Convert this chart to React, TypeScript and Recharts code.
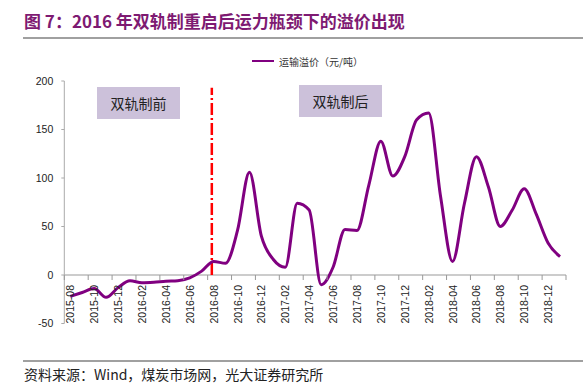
import * as React from 'react';
import { LineChart, Line, XAxis, YAxis, ReferenceLine } from 'recharts';

// monthly transport premium (yuan/ton)
const MONTHS = [
  '2015-08', '2015-09', '2015-10', '2015-11', '2015-12',
  '2016-01', '2016-02', '2016-03', '2016-04', '2016-05', '2016-06',
  '2016-07', '2016-08', '2016-09', '2016-10', '2016-11', '2016-12',
  '2017-01', '2017-02', '2017-03', '2017-04', '2017-05', '2017-06',
  '2017-07', '2017-08', '2017-09', '2017-10', '2017-11', '2017-12',
  '2018-01', '2018-02', '2018-03', '2018-04', '2018-05', '2018-06',
  '2018-07', '2018-08', '2018-09', '2018-10', '2018-11', '2018-12',
  '2019-01'
];
const PREMIUM = [
  -22, -18, -14, -23, -13,
  -6, -8, -7.5, -6.5, -6, -3, 4, 14, 12, 46, 106, 40,
  16, 8, 74, 67, -10, 8, 47, 46, 93, 138, 102, 122,
  160, 167, 81, 14, 74, 122, 91, 50, 67, 89, 63, 33,
  19
];
const TICK_LABELS = [
  '2015-08', '2015-10', '2015-12', '2016-02', '2016-04', '2016-06',
  '2016-08', '2016-10', '2016-12', '2017-02', '2017-04', '2017-06',
  '2017-08', '2017-10', '2017-12', '2018-02', '2018-04', '2018-06',
  '2018-08', '2018-10', '2018-12'
];
const Y_TICKS = [-50, 0, 50, 100, 150, 200];
const Y_MIN = -50;
const Y_MAX = 200;
const RESTART_AT = 12.35; // 双轨制 restart (2016-08)

const W = 583;
const H = 384;
const PLOT_LEFT = 64.3;
const PLOT_RIGHT = 566;
const PLOT_TOP = 81;
const PLOT_BOTTOM = 323.5;
const YAXIS_W = 50;
const XAXIS_H = 30;

const LINE_COLOR = '#800080';
const TITLE_COLOR = '#7E1A72';
const CJK = '"Noto Sans CJK SC", "Noto Sans", sans-serif';
const LATIN = '"Liberation Sans", Arial, sans-serif';

const data = MONTHS.map((m, i) => ({ x: i + 0.5, month: m, v: PREMIUM[i] }));
// month boundaries every 2 months, labels sit at the middle of the month
const boundaries = TICK_LABELS.map((_, i) => i * 2).concat([MONTHS.length]);

const XTick = (props: any) => {
  const { x, payload } = props;
  const zeroY = PLOT_TOP + ((PLOT_BOTTOM - PLOT_TOP) * Y_MAX) / (Y_MAX - Y_MIN);
  const half = (PLOT_RIGHT - PLOT_LEFT) / (MONTHS.length * 2);
  const label = TICK_LABELS[payload.value / 2];
  return (
    <g>
      <line x1={x} x2={x} y1={zeroY} y2={zeroY + 5} stroke="#999" />
      {label && (
        <text
          transform={`translate(${x + half + 4},${zeroY + 10}) rotate(-90)`}
          textAnchor="end"
          fontSize={10.5}
          fill="#222"
          fontFamily={LATIN}
        >
          {label}
        </text>
      )}
    </g>
  );
};

const boxStyle: React.CSSProperties = {
  position: 'absolute',
  background: '#CCC1DA',
  fontFamily: CJK,
  fontSize: 14,
  color: '#222',
  display: 'flex',
  alignItems: 'center',
  justifyContent: 'center'
};

export default function App() {
  return (
    <div
      style={{
        position: 'absolute',
        left: 0,
        top: 0,
        width: W,
        height: H,
        background: '#fff',
        overflow: 'hidden'
      }}
    >
      <div
        style={{
          position: 'absolute',
          left: 24,
          top: 12,
          fontFamily: CJK,
          fontWeight: 700,
          fontSize: 17,
          lineHeight: '18px',
          color: TITLE_COLOR,
          whiteSpace: 'nowrap'
        }}
      >
        图 7：2016 年双轨制重启后运力瓶颈下的溢价出现
      </div>
      <div style={{ position: 'absolute', left: 23, top: 37, width: 560, height: 2, background: '#A0A0A0' }} />

      <LineChart
        width={W}
        height={H}
        data={data}
        margin={{
          top: PLOT_TOP,
          right: W - PLOT_RIGHT,
          bottom: H - PLOT_BOTTOM - XAXIS_H,
          left: PLOT_LEFT - YAXIS_W
        }}
      >
        <XAxis
          dataKey="x"
          type="number"
          domain={[0, MONTHS.length]}
          ticks={boundaries}
          interval={0}
          axisLine={false}
          tickLine={false}
          height={XAXIS_H}
          tick={<XTick />}
        />
        <YAxis
          type="number"
          domain={[Y_MIN, Y_MAX]}
          ticks={Y_TICKS}
          interval={0}
          width={YAXIS_W}
          axisLine={{ stroke: '#AAA' }}
          tickLine={{ stroke: '#AAA' }}
          tickSize={3}
          tickMargin={8}
          tick={{ fontSize: 10.5, fill: '#222', fontFamily: LATIN }}
        />
        <ReferenceLine y={0} stroke="#999" strokeWidth={1} />
        <ReferenceLine
          segment={[
            { x: RESTART_AT, y: 0 },
            { x: RESTART_AT, y: 193 }
          ]}
          stroke="#FF0000"
          strokeWidth={2.5}
          strokeDasharray="12 3 2 3"
        />
        <Line
          type="monotone"
          dataKey="v"
          stroke={LINE_COLOR}
          strokeWidth={3}
          dot={false}
          isAnimationActive={false}
        />
      </LineChart>

      <div
        style={{
          position: 'absolute',
          left: 252,
          top: 54,
          height: 14,
          display: 'flex',
          alignItems: 'center',
          fontFamily: CJK,
          fontSize: 10,
          color: '#333',
          whiteSpace: 'nowrap'
        }}
      >
        <span style={{ display: 'inline-block', width: 22, height: 1.5, background: LINE_COLOR, marginRight: 5 }} />
        运输溢价（元/吨）
      </div>

      <div style={{ ...boxStyle, left: 97, top: 87, width: 83, height: 32 }}>双轨制前</div>
      <div style={{ ...boxStyle, left: 299, top: 85, width: 83, height: 32 }}>双轨制后</div>

      <div style={{ position: 'absolute', left: 23, top: 360, width: 560, height: 2, background: '#A0A0A0' }} />
      <div
        style={{
          position: 'absolute',
          left: 24,
          top: 367,
          fontFamily: CJK,
          fontSize: 14,
          lineHeight: '14px',
          color: '#222',
          whiteSpace: 'nowrap'
        }}
      >
        资料来源：Wind，煤炭市场网，光大证券研究所
      </div>
    </div>
  );
}
